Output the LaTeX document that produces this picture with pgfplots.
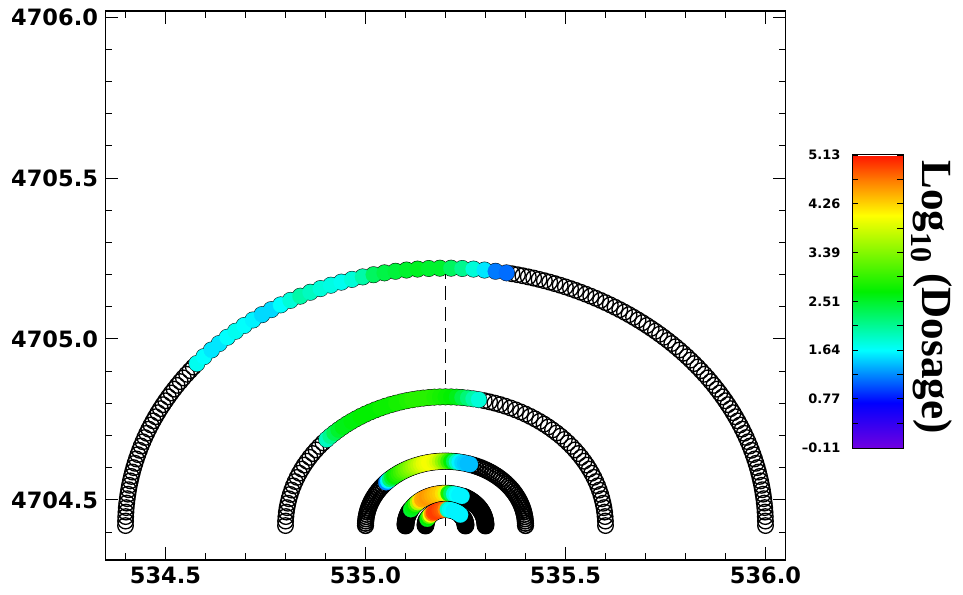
\documentclass[border=0pt]{standalone}
\usepackage{pgfplots}
\pgfplotsset{compat=1.18}
\usepackage{pgfplotstable}
\usepackage{fontspec}
\setmainfont{DejaVu Sans}
\newfontfamily\labserif{Liberation Serif}
\newcommand\tickfont{\fontsize{22.5bp}{24bp}\selectfont\bfseries}
\newcommand\cbfont{\fontsize{13bp}{15bp}\selectfont\bfseries}
\newcommand\labfont{\labserif\bfseries\fontsize{43bp}{45bp}\selectfont}

% ---------- arc r = 0.8 ----------
\pgfplotstableread{
x y
534.4000 4704.4200
534.4002 4704.4340
534.4005 4704.4479
534.4011 4704.4618
534.4019 4704.4758
534.4030 4704.4898
534.4044 4704.5036
534.4060 4704.5175
534.4078 4704.5314
534.4098 4704.5451
534.4122 4704.5589
534.4147 4704.5726
534.4175 4704.5863
534.4205 4704.6000
534.4238 4704.6135
534.4273 4704.6270
534.4310 4704.6405
534.4350 4704.6539
534.4391 4704.6672
534.4436 4704.6805
534.4482 4704.6936
534.4531 4704.7067
534.4582 4704.7197
534.4636 4704.7326
534.4692 4704.7454
534.4750 4704.7581
534.4810 4704.7707
534.4872 4704.7832
534.4937 4704.7956
534.5003 4704.8078
534.5072 4704.8200
534.5142 4704.8320
534.5216 4704.8439
534.5290 4704.8557
534.5368 4704.8674
534.5446 4704.8789
534.5528 4704.8902
534.5611 4704.9014
534.5696 4704.9126
}\aL
\pgfplotstableread{
x y c
534.5783 4704.9234 1.70
534.5962 4704.9449 1.65
534.6149 4704.9656 1.55
534.6343 4704.9857 1.55
534.6544 4705.0051 1.65
534.6751 4705.0238 1.70
534.6966 4705.0417 1.65
534.7186 4705.0589 1.60
534.7411 4705.0754 1.50
534.7643 4705.0910 1.50
534.7880 4705.1058 1.65
534.8122 4705.1197 1.80
534.8368 4705.1328 2.00
534.8619 4705.1450 1.90
534.8874 4705.1564 1.80
534.9133 4705.1669 1.75
534.9395 4705.1764 1.70
534.9661 4705.1850 1.80
534.9930 4705.1927 2.00
535.0200 4705.1995 2.30
535.0474 4705.2053 2.40
535.0749 4705.2102 2.45
535.1025 4705.2140 2.50
535.1302 4705.2170 2.55
535.1582 4705.2189 2.50
535.1860 4705.2198 2.50
535.2140 4705.2198 2.30
535.2418 4705.2189 2.10
535.2698 4705.2170 1.80
535.2975 4705.2140 1.55
535.3251 4705.2102 1.15
535.3526 4705.2053 1.10
}\aC
\pgfplotstableread{
x y
535.3663 4705.2025
535.3800 4705.1995
535.3935 4705.1962
535.4070 4705.1927
535.4205 4705.1890
535.4339 4705.1850
535.4472 4705.1809
535.4605 4705.1764
535.4736 4705.1718
535.4867 4705.1669
535.4997 4705.1618
535.5126 4705.1564
535.5254 4705.1508
535.5381 4705.1450
535.5507 4705.1390
535.5632 4705.1328
535.5756 4705.1263
535.5878 4705.1197
535.6000 4705.1128
535.6120 4705.1058
535.6239 4705.0984
535.6357 4705.0910
535.6474 4705.0832
535.6589 4705.0754
535.6702 4705.0672
535.6814 4705.0589
535.6926 4705.0504
535.7034 4705.0417
535.7142 4705.0328
535.7249 4705.0238
535.7353 4705.0145
535.7456 4705.0051
535.7558 4704.9954
535.7657 4704.9857
535.7754 4704.9758
535.7851 4704.9656
535.7945 4704.9553
535.8038 4704.9449
535.8128 4704.9342
535.8217 4704.9234
535.8304 4704.9126
535.8389 4704.9014
535.8472 4704.8902
535.8554 4704.8789
535.8632 4704.8674
535.8710 4704.8557
535.8784 4704.8439
535.8858 4704.8320
535.8928 4704.8200
535.8997 4704.8078
535.9063 4704.7956
535.9128 4704.7832
535.9190 4704.7707
535.9250 4704.7581
535.9308 4704.7454
535.9364 4704.7326
535.9418 4704.7197
535.9469 4704.7067
535.9518 4704.6936
535.9564 4704.6805
535.9609 4704.6672
535.9650 4704.6539
535.9690 4704.6405
535.9727 4704.6270
535.9762 4704.6135
535.9795 4704.6000
535.9825 4704.5863
535.9853 4704.5726
535.9878 4704.5589
535.9902 4704.5451
535.9922 4704.5314
535.9940 4704.5175
535.9956 4704.5036
535.9970 4704.4898
535.9981 4704.4758
535.9989 4704.4618
535.9995 4704.4479
535.9998 4704.4340
536.0000 4704.4200
}\aR

% ---------- arc r = 0.4 ----------
\pgfplotstableread{
x y
534.8000 4704.4200
534.8002 4704.4340
534.8010 4704.4479
534.8022 4704.4618
534.8039 4704.4757
534.8061 4704.4894
534.8088 4704.5032
534.8119 4704.5168
534.8155 4704.5302
534.8196 4704.5436
534.8241 4704.5568
534.8291 4704.5698
534.8346 4704.5827
534.8405 4704.5954
534.8468 4704.6078
534.8536 4704.6200
534.8608 4704.6320
534.8684 4704.6437
534.8764 4704.6551
534.8848 4704.6663
534.8936 4704.6771
}\bL
\pgfplotstableread{
x y c
534.9028 4704.6876 1.90
534.9123 4704.6979 2.10
534.9221 4704.7077 2.35
534.9324 4704.7172 2.50
534.9429 4704.7264 2.60
534.9537 4704.7352 2.60
534.9649 4704.7436 2.65
534.9763 4704.7516 2.65
534.9880 4704.7592 2.70
535.0000 4704.7664 2.70
535.0122 4704.7732 2.70
535.0246 4704.7795 2.70
535.0373 4704.7854 2.75
535.0502 4704.7909 2.75
535.0632 4704.7959 2.75
535.0764 4704.8004 2.80
535.0898 4704.8045 2.80
535.1032 4704.8081 2.85
535.1168 4704.8112 2.90
535.1306 4704.8139 2.90
535.1443 4704.8161 2.90
535.1582 4704.8178 2.90
535.1721 4704.8190 2.85
535.1860 4704.8198 2.80
535.2000 4704.8200 2.75
535.2140 4704.8198 2.70
535.2279 4704.8190 2.60
535.2418 4704.8178 2.40
535.2557 4704.8161 2.20
535.2694 4704.8139 2.00
535.2832 4704.8112 1.80
}\bC
\pgfplotstableread{
x y
535.2968 4704.8081
535.3102 4704.8045
535.3236 4704.8004
535.3368 4704.7959
535.3498 4704.7909
535.3627 4704.7854
535.3754 4704.7795
535.3878 4704.7732
535.4000 4704.7664
535.4120 4704.7592
535.4237 4704.7516
535.4351 4704.7436
535.4463 4704.7352
535.4571 4704.7264
535.4676 4704.7172
535.4779 4704.7077
535.4877 4704.6979
535.4972 4704.6876
535.5064 4704.6771
535.5152 4704.6663
535.5236 4704.6551
535.5316 4704.6437
535.5392 4704.6320
535.5464 4704.6200
535.5532 4704.6078
535.5595 4704.5954
535.5654 4704.5827
535.5709 4704.5698
535.5759 4704.5568
535.5804 4704.5436
535.5845 4704.5302
535.5881 4704.5168
535.5912 4704.5032
535.5939 4704.4894
535.5961 4704.4757
535.5978 4704.4618
535.5990 4704.4479
535.5998 4704.4340
535.6000 4704.4200
}\bR

% ---------- arc r = 0.2 ----------
\pgfplotstableread{
x y
535.0000 4704.4200
535.0001 4704.4270
535.0005 4704.4340
535.0011 4704.4409
535.0019 4704.4478
535.0030 4704.4547
535.0044 4704.4616
535.0059 4704.4684
535.0077 4704.4751
535.0098 4704.4818
535.0121 4704.4884
535.0146 4704.4949
535.0173 4704.5013
535.0202 4704.5077
535.0234 4704.5139
535.0268 4704.5200
535.0304 4704.5260
535.0342 4704.5318
535.0382 4704.5376
535.0424 4704.5431
535.0468 4704.5486
}\cL
\pgfplotstableread{
x y c
535.0514 4704.5538 1.20
535.0561 4704.5589 1.60
535.0611 4704.5639 2.20
535.0662 4704.5686 2.50
535.0714 4704.5732 2.70
535.0769 4704.5776 2.80
535.0824 4704.5818 2.90
535.0882 4704.5858 3.00
535.0940 4704.5896 3.10
535.1000 4704.5932 3.20
535.1061 4704.5966 3.30
535.1123 4704.5998 3.40
535.1187 4704.6027 3.50
535.1251 4704.6054 3.60
535.1316 4704.6079 3.70
535.1382 4704.6102 3.80
535.1449 4704.6123 3.90
535.1516 4704.6141 3.95
535.1584 4704.6156 4.00
535.1653 4704.6170 4.00
535.1722 4704.6181 3.95
535.1791 4704.6189 3.85
535.1860 4704.6195 3.70
535.1930 4704.6199 3.50
535.2000 4704.6200 3.30
535.2070 4704.6199 3.00
535.2140 4704.6195 2.70
535.2209 4704.6189 2.30
535.2278 4704.6181 1.90
535.2347 4704.6170 1.60
535.2416 4704.6156 1.50
535.2484 4704.6141 1.45
535.2551 4704.6123 1.40
535.2618 4704.6102 1.40
}\cC
\pgfplotstableread{
x y
535.2684 4704.6079
535.2749 4704.6054
535.2813 4704.6027
535.2877 4704.5998
535.2939 4704.5966
535.3000 4704.5932
535.3060 4704.5896
535.3118 4704.5858
535.3176 4704.5818
535.3231 4704.5776
535.3286 4704.5732
535.3338 4704.5686
535.3389 4704.5639
535.3439 4704.5589
535.3486 4704.5538
535.3532 4704.5486
535.3576 4704.5431
535.3618 4704.5376
535.3658 4704.5318
535.3696 4704.5260
535.3732 4704.5200
535.3766 4704.5139
535.3798 4704.5077
535.3827 4704.5013
535.3854 4704.4949
535.3879 4704.4884
535.3902 4704.4818
535.3923 4704.4751
535.3941 4704.4684
535.3956 4704.4616
535.3970 4704.4547
535.3981 4704.4478
535.3989 4704.4409
535.3995 4704.4340
535.3999 4704.4270
535.4000 4704.4200
}\cR

% ---------- arc r = 0.1 ----------
\pgfplotstableread{
x y
535.1000 4704.4200
535.1001 4704.4235
535.1002 4704.4270
535.1005 4704.4305
535.1010 4704.4339
535.1015 4704.4374
535.1022 4704.4408
535.1030 4704.4442
535.1039 4704.4476
535.1049 4704.4509
535.1060 4704.4542
535.1073 4704.4575
535.1086 4704.4607
535.1101 4704.4638
535.1117 4704.4669
}\dL
\pgfplotstableread{
x y c
535.1134 4704.4700 2.50
535.1171 4704.4759 2.60
535.1212 4704.4816 2.70
535.1257 4704.4869 3.00
535.1305 4704.4919 3.60
535.1357 4704.4966 4.20
535.1412 4704.5009 4.45
535.1470 4704.5048 4.50
535.1531 4704.5083 4.55
535.1593 4704.5114 4.50
535.1658 4704.5140 4.45
535.1724 4704.5161 4.40
535.1792 4704.5178 4.35
535.1861 4704.5190 4.30
535.1930 4704.5198 4.20
535.2000 4704.5200 3.90
535.2070 4704.5198 2.80
535.2139 4704.5190 2.30
535.2208 4704.5178 1.80
535.2276 4704.5161 1.65
535.2342 4704.5140 1.60
535.2407 4704.5114 1.60
}\dC
\pgfplotstableread{
x y
535.2438 4704.5099
535.2469 4704.5083
535.2500 4704.5066
535.2530 4704.5048
535.2559 4704.5029
535.2588 4704.5009
535.2616 4704.4988
535.2643 4704.4966
535.2669 4704.4943
535.2695 4704.4919
535.2719 4704.4895
535.2743 4704.4869
535.2766 4704.4843
535.2788 4704.4816
535.2809 4704.4788
535.2829 4704.4759
535.2848 4704.4730
535.2866 4704.4700
535.2883 4704.4669
535.2899 4704.4638
535.2914 4704.4607
535.2927 4704.4575
535.2940 4704.4542
535.2951 4704.4509
535.2961 4704.4476
535.2970 4704.4442
535.2978 4704.4408
535.2985 4704.4374
535.2990 4704.4339
535.2995 4704.4305
535.2998 4704.4270
535.2999 4704.4235
535.3000 4704.4200
}\dR

% ---------- arc r = 0.05 ----------
\pgfplotstableread{
x y
535.1500 4704.4200
535.1501 4704.4235
535.1505 4704.4270
535.1511 4704.4304
535.1519 4704.4338
535.1530 4704.4371
}\eL
\pgfplotstableread{
x y c
535.1543 4704.4403 2.60
535.1567 4704.4450 2.70
535.1595 4704.4494 3.20
535.1628 4704.4535 4.00
535.1665 4704.4572 4.60
535.1706 4704.4605 4.90
535.1750 4704.4633 4.95
535.1797 4704.4657 4.95
535.1845 4704.4676 4.90
535.1896 4704.4689 4.85
535.1948 4704.4697 4.80
535.2000 4704.4700 4.60
535.2052 4704.4697 1.90
535.2104 4704.4689 1.70
535.2155 4704.4676 1.65
535.2203 4704.4657 1.60
535.2250 4704.4633 1.60
535.2294 4704.4605 1.60
535.2335 4704.4572 1.60
535.2372 4704.4535 1.60
}\eC
\pgfplotstableread{
x y
535.2383 4704.4521
535.2405 4704.4494
535.2424 4704.4465
535.2441 4704.4435
535.2457 4704.4403
535.2470 4704.4371
535.2481 4704.4338
535.2489 4704.4304
535.2495 4704.4270
535.2499 4704.4235
535.2500 4704.4200
}\eR

\begin{document}
\begin{tikzpicture}
\useasboundingbox (-105.5bp,-35bp) rectangle (857.5bp,560bp);
\begin{axis}[
  scale only axis, width=680bp, height=549bp,
  xmin=534.35, xmax=536.05, ymin=4704.313, ymax=4706.019,
  scaled ticks=false,
  xtick={534.5,535,535.5,536}, xticklabels={534.5,535.0,535.5,536.0},
  ytick={4704.5,4705,4705.5,4706}, yticklabels={4704.5,4705.0,4705.5,4706.0},
  minor xtick={534.4,534.6,534.7,534.8,534.9,535.1,535.2,535.3,535.4,535.6,535.7,535.8,535.9},
  minor ytick={4704.4,4704.6,4704.7,4704.8,4704.9,4705.1,4705.2,4705.3,4705.4,4705.6,4705.7,4705.8,4705.9},
  tick align=inside, major tick length=13bp, minor tick length=7bp,
  every tick/.style={black, line width=1bp},
  axis line style={line width=1.2bp},
  ticklabel style={font=\tickfont},
  xticklabel style={yshift=-3bp},
  yticklabel style={xshift=-4bp},
  colormap={dosage}{rgb255(0pt)=(112,0,224) rgb255(81pt)=(0,0,255) rgb255(175pt)=(0,255,255) rgb255(280pt)=(0,240,0) rgb255(416pt)=(255,255,0) rgb255(477pt)=(255,128,0) rgb255(524pt)=(255,20,0)},
  point meta min=-0.11, point meta max=5.13,
  colorbar,
  colorbar/width=51bp,
  colorbar style={
    at={(parent axis.north east)}, anchor=north west, xshift=58bp, yshift=-144bp,
    height=293bp,
    ytick={-0.11,0.77,1.64,2.51,3.39,4.26,5.13},
    yticklabels={\textendash0.11,0.77,1.64,2.51,3.39,4.26,5.13},
    minor ytick={0.33,1.205,2.075,2.95,3.825,4.695},
    ytick pos=both, yticklabel pos=left,
    tick align=inside, major tick length=6bp, minor tick length=6bp,
    yticklabel style={font=\cbfont, xshift=-8bp},
    axis line style={line width=1bp},
    every tick/.style={black, line width=0.8bp},
  },
  ringstyle/.style={only marks, mark=o, mark size=7.8bp, black, line width=1.3bp},
  densering/.style={only marks, mark=o, mark size=7.8bp, black, line width=2.2bp},
  colstyle/.style={scatter, only marks, mark=*, mark size=7.8bp, line width=0.2bp,
    point meta=explicit, scatter/use mapped color={draw=mapped color, fill=mapped color}},
]
% r = 0.8
\addplot[ringstyle] table[x=x,y=y] {\aL};
\addplot[ringstyle] table[x=x,y=y] {\aR};
\addplot[ringstyle] table[x=x,y=y] {\aC};
\addplot[colstyle] table[x=x,y=y,meta=c] {\aC};
% r = 0.4
\addplot[ringstyle] table[x=x,y=y] {\bL};
\addplot[ringstyle] table[x=x,y=y] {\bR};
\addplot[ringstyle] table[x=x,y=y] {\bC};
\addplot[colstyle] table[x=x,y=y,meta=c] {\bC};
% r = 0.2
\addplot[ringstyle, line width=1.6bp] table[x=x,y=y] {\cL};
\addplot[ringstyle, line width=1.6bp] table[x=x,y=y] {\cR};
\addplot[ringstyle, line width=1.6bp] table[x=x,y=y] {\cC};
\addplot[colstyle] table[x=x,y=y,meta=c] {\cC};
% r = 0.1
\addplot[densering] table[x=x,y=y] {\dL};
\addplot[densering] table[x=x,y=y] {\dR};
\addplot[ringstyle, line width=1.6bp] table[x=x,y=y] {\dC};
\addplot[colstyle] table[x=x,y=y,meta=c] {\dC};
% r = 0.05
\addplot[densering] table[x=x,y=y] {\eL};
\addplot[densering] table[x=x,y=y] {\eR};
\addplot[ringstyle, line width=1.6bp] table[x=x,y=y] {\eC};
\addplot[colstyle] table[x=x,y=y,meta=c] {\eC};
% centre line
\addplot[black, line width=0.8bp, dash pattern=on 14bp off 7bp] coordinates {(535.2,4705.23) (535.2,4704.42)};
\end{axis}
\node[rotate=-90, font=\labfont] at (826.5bp,263bp) {Log\textsubscript{10} (Dosage)};
\end{tikzpicture}
\end{document}
